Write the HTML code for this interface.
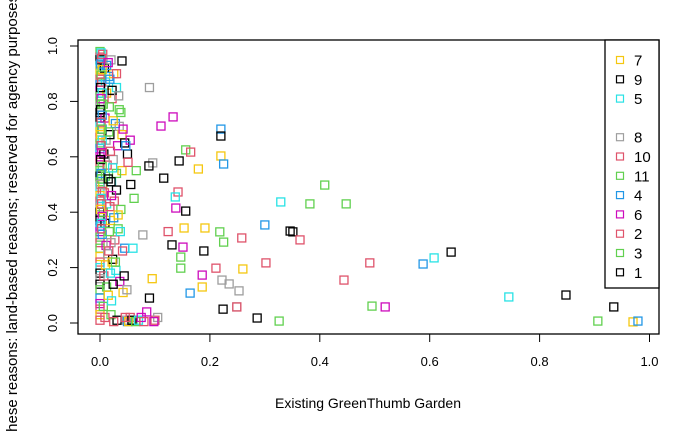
<!DOCTYPE html>
<html><head><meta charset="utf-8">
<style>
html,body{margin:0;padding:0;background:#fff;width:700px;height:432px;overflow:hidden}
svg text{font-family:"Liberation Sans",Arial,sans-serif;fill:#000}
</style></head>
<body>
<svg id="chart" width="700" height="432" viewBox="0 0 700 432" xmlns="http://www.w3.org/2000/svg">
<rect x="78" y="40" width="581" height="294" fill="none" stroke="#000" stroke-width="1.3"/>
<g id="xaxis"></g>
<g id="yaxis"></g>
<g id="points"></g>
<text x="368" y="408" font-size="14" text-anchor="middle">Existing GreenThumb Garden</text>
<text transform="translate(17,441) rotate(-90)" font-size="15" text-anchor="start">These reasons: land-based reasons; reserved for agency purposes</text>
<g id="legend">
<rect x="605" y="40" width="54" height="248" fill="#fff" stroke="#000" stroke-width="1.3"/>
</g>
</svg>
<script>
const xTicks=[0,0.2,0.4,0.6,0.8,1.0];
const xTickLabels=["0.0","0.2","0.4","0.6","0.8","1.0"];
const yTicks=[0,0.2,0.4,0.6,0.8,1.0];
const yTickLabels=["0.0","0.2","0.4","0.6","0.8","1.0"];
const legendLabels=["7","9","5","","8","10","11","4","6","2","3","1"];
const groupColors={1:"#000000",2:"#DF536B",3:"#61D04F",4:"#2297E6",5:"#28E2E5",6:"#CD0BBC",7:"#F5C710",8:"#9E9E9E",9:"#000000",10:"#DF536B",11:"#61D04F"};
const xs=[0.04,0.09,0.133,0.111,0.22,0.22,0.156,0.165,0.144,0.22,0.225,0.179,0.096,0.089,0.116,0.409,0.329,0.382,0.448,0.142,0.138,0.137,0.156,0.30,0.346,0.351,0.218,0.258,0.153,0.191,0.124,0.225,0.364,0.131,0.189,0.078,0.151,0.147,0.147,0.211,0.26,0.302,0.186,0.186,0.222,0.235,0.253,0.164,0.224,0.249,0.249,0.286,0.326,0.491,0.444,0.588,0.608,0.639,0.495,0.519,0.744,0.848,0.935,0.906,0.97,0.979,
0,0,0,0,0,0,0,0,0,0,0,0,0,0,0,0,0,0,0,0,0,0,0,0,0,0,0,0,0,0,0,0,0,0,0,0,0,0,0,0,0,0,0,0,0,0,
0.005,0.008,0.01,0.012,0.006,0.009,0.004,0.011,0.007,0.013,0.01,0.005,0.008,0.012,0.006,0.009,0.004,0.011,0.014,0.01,0.007,0.012,0.006,0.009,
0.02,0.025,0.03,0.022,0.035,0.028,0.018,0.032,0.024,0.04,0.021,0.03,0.026,0.038,0.019,0.033,0.027,0.045,0.023,0.029,0.036,0.042,0.02,0.031,0.025,0.048,0.05,0.055,0.06,0.052,0.058,0.046,0.065,0.07,0.075,0.08,0.1,0.105,0.035,0.04,0.045,0.05,0.03,0.02,0.06,0.012,0.016,0.085,0.09,0.095,0.098,0.066,0.055,
0.002,0.003,0.001,0.004,0.002,0.003,0.001,0.004,0.002,0.003,0.001,0.004,0.002,0.003,0.001,0.004,0.002,0.003,0.001,0.004,0.002,0.003,0.001,0.004,0.002,0.003,0.001,0.004,0.002,0.003,
0.015,0.018,0.022,0.017,0.024,0.016,0.019,0.023,0.015,0.021,0.018,0.025,0.017,0.02,0.016,0.022,0.019,0.024,0.015,0.021,
0.03,0.034,0.038,0.042,0.047,0.051,0.056,0.062,0.033,0.037,0.041,0.028,0.044,0.049,0.053,0.039],
ys=[0.946,0.85,0.744,0.711,0.70,0.675,0.625,0.617,0.585,0.603,0.574,0.556,0.578,0.567,0.523,0.498,0.437,0.43,0.43,0.473,0.415,0.455,0.404,0.354,0.332,0.329,0.329,0.307,0.343,0.343,0.33,0.292,0.30,0.282,0.26,0.318,0.274,0.238,0.198,0.198,0.195,0.217,0.173,0.13,0.155,0.141,0.116,0.108,0.05,0.058,0.058,0.018,0.007,0.217,0.155,0.213,0.235,0.256,0.061,0.058,0.094,0.101,0.058,0.007,0.004,0.007,
0.98,0.96,0.95,0.93,0.91,0.88,0.86,0.84,0.82,0.80,0.78,0.76,0.74,0.71,0.69,0.67,0.65,0.63,0.60,0.58,0.55,0.53,0.51,0.49,0.46,0.44,0.42,0.40,0.37,0.35,0.33,0.31,0.29,0.27,0.24,0.22,0.20,0.18,0.16,0.14,0.12,0.09,0.07,0.05,0.03,0.01,
0.97,0.92,0.87,0.83,0.79,0.74,0.70,0.66,0.61,0.57,0.53,0.50,0.47,0.43,0.40,0.36,0.32,0.28,0.25,0.21,0.17,0.13,0.06,0.02,
0.95,0.90,0.85,0.81,0.77,0.72,0.68,0.64,0.59,0.55,0.51,0.48,0.44,0.41,0.37,0.34,0.30,0.27,0.23,0.19,0.15,0.11,0.03,0.01,0.005,0.01,0.005,0.02,0.01,0.005,0.01,0.02,0.005,0.01,0.02,0.005,0.01,0.02,0.71,0.68,0.65,0.61,0.54,0.51,0.27,0.93,0.89,0.04,0.09,0.16,0.005,0.55,0.66,
0.975,0.955,0.935,0.915,0.895,0.87,0.85,0.83,0.81,0.79,0.77,0.75,0.725,0.70,0.68,0.66,0.64,0.615,0.59,0.565,0.54,0.52,0.50,0.475,0.45,0.43,0.41,0.385,0.36,0.34,
0.94,0.88,0.84,0.78,0.73,0.69,0.62,0.56,0.52,0.46,0.42,0.38,0.33,0.29,0.26,0.22,0.18,0.14,0.10,0.08,
0.90,0.82,0.76,0.70,0.64,0.58,0.50,0.45,0.39,0.33,0.26,0.22,0.17,0.12,0.08,0.06],
gs=[9,8,6,6,4,1,3,2,1,7,4,7,8,1,1,3,5,3,11,2,6,5,1,4,1,9,11,2,7,7,10,3,2,1,9,8,6,3,11,10,7,2,6,7,8,8,8,4,1,8,2,1,3,10,2,4,5,1,3,6,5,1,9,11,7,4,
3,10,1,5,7,2,4,6,11,3,8,9,1,5,7,2,3,4,6,10,11,1,3,5,7,2,8,9,1,4,6,3,10,11,7,2,5,1,8,9,3,4,6,2,7,10,
2,1,5,7,3,6,4,8,9,10,11,7,2,5,3,1,4,6,8,7,10,3,11,2,
8,7,5,2,3,4,1,6,8,7,5,9,2,3,7,11,10,4,1,5,6,7,3,1,2,8,4,10,3,7,1,2,11,5,6,10,2,8,8,7,1,9,3,9,5,4,4,6,9,7,6,
11,6,5,10,4,7,3,2,9,5,6,11,1,4,10,3,7,5,2,6,9,11,4,3,8,10,5,2,7,6,
5,2,6,4,9,11,7,3,10,5,1,6,2,4,3,8,10,7,5,9,
7,5,2,8,3,6,4,10,9,11,7,5,2,3,1,8];

const X0=100,X1=649.5,Y0=323,Y1=46;
function sx(v){return X0+v*(X1-X0);}
function sy(v){return Y0-v*(Y0-Y1);}
const NS="http://www.w3.org/2000/svg";
function mk(tag,attrs,parent){const e=document.createElementNS(NS,tag);for(const k in attrs)e.setAttribute(k,attrs[k]);parent.appendChild(e);return e;}

const xa=document.getElementById('xaxis');
mk('line',{x1:sx(0),x2:sx(1),y1:334,y2:334,stroke:'#000','stroke-width':1},xa);
xTicks.forEach((t,i)=>{
  const l=mk('line',{x1:sx(t),x2:sx(t),y1:334,y2:342,stroke:'#000','stroke-width':1},xa);
  
  
  const tx=mk('text',{x:sx(t),y:366,'font-size':13,'text-anchor':'middle'},xa);
  tx.textContent=xTickLabels[i];
  
  
});
const ya=document.getElementById('yaxis');
yTicks.forEach((t,i)=>{
  const l=mk('line',{x1:70,x2:78,y1:sy(t),y2:sy(t),stroke:'#000','stroke-width':1},ya);
  
  
  const tx=mk('text',{'font-size':13,'text-anchor':'middle',transform:`translate(57,${sy(t)}) rotate(-90)`},ya);
  tx.textContent=yTickLabels[i];
  
  
});
const pg=document.getElementById('points');
for(let i=0;i<xs.length;i++){
  const c=groupColors[gs[i]];
  const r=mk('rect',{x:sx(xs[i])-4,y:sy(ys[i])-4,width:8,height:8,fill:'none',stroke:c,'stroke-width':1.3},pg);
  
  
}
const lg=document.getElementById('legend');
const legColors=["#F5C710","#000000","#28E2E5",null,"#9E9E9E","#DF536B","#61D04F","#2297E6","#CD0BBC","#DF536B","#61D04F","#000000"];
legendLabels.forEach((lab,i)=>{
  if(!lab)return;
  const y=60+i*19.3;
  const r=mk('rect',{x:616.5,y:y-3.5,width:7,height:7,fill:'none',stroke:legColors[i],'stroke-width':1.2},lg);
  
  
  const t=mk('text',{x:634,y:y+5.5,'font-size':15},lg);
  t.textContent=lab;
  
  
});
</script>
</body></html>
